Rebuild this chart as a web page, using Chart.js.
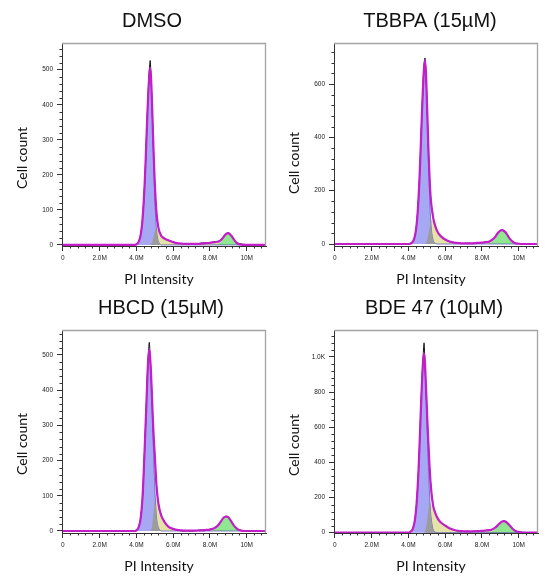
<!DOCTYPE html>
<html><head><meta charset="utf-8">
<script src="https://cdn.jsdelivr.net/npm/chart.js@4.4.1/dist/chart.umd.min.js"></script>
<style>
html,body{margin:0;padding:0;background:#fff;width:545px;height:577px;overflow:hidden}
canvas{position:absolute}
</style></head><body>
<canvas id="c0" style="left:0;top:0" width="272" height="290"></canvas>
<canvas id="c1" style="left:272px;top:0" width="273" height="290"></canvas>
<canvas id="c2" style="left:0;top:287px" width="272" height="290"></canvas>
<canvas id="c3" style="left:272px;top:287px" width="273" height="290"></canvas>
<script>
// PI intensity bin positions (millions)
const binsM = [0,3.9,4.0,4.1,
  4.2,4.25,4.3,4.35,4.4,4.45,4.5,4.55,4.6,4.65,4.7,4.75,4.8,4.85,4.9,4.95,5.0,5.05,5.1,5.15,5.2,5.25,5.3,5.35,5.4,
  5.5,5.6,5.7,5.8,
  6.0,6.2,6.4,6.6,6.8,7.0,7.2,7.4,7.6,7.8,8.0,8.2,
  8.4,8.5,8.6,8.7,8.8,8.9,9.0,9.1,9.2,9.3,9.4,9.5,9.6,9.7,9.8,
  10.0,10.2,10.4,10.6,11.0];

const panelTitles = ['DMSO','TBBPA (15µM)','HBCD (15µM)','BDE 47 (10µM)'];
const xTickValues = [0,2,4,6,8,10];
const xTickLabels = ['0','2.0M','4.0M','6.0M','8.0M','10M'];
const yTicksDMSO = [0,100,200,300,400,500];
const yTicksTBBPA = [0,200,400,600];
const yTicksHBCD = [0,100,200,300,400,500];
const yTicksBDE = [0,200,400,600,800,1000];
const yAxisTitle = 'Cell count';
const xAxisTitle = 'PI Intensity';

// DMSO
const histDMSO = [0,0,2,8, 22,37,54,88,124,180,236,315,382,445,500,526,468,398,316,242,172,125,86,62,50,37,33,27,22, 20,15,14,12, 9,5,4,3,2,3,3,4,6,6,7,9, 10,11,15,21,28,33,35,31,23,15,9,6,4,3,2, 1,1,0,0,0];
const g1DMSO = [0,0,2,7, 21,35,56,86,126,177,240,311,379,439,484,505,470,394,303,212,136,76,40,20,9,4,2,0,0, 0,0,0,0, 0,0,0,0,0,0,0,0,0,0,0,0, 0,0,0,0,0,0,0,0,0,0,0,0,0,0,0, 0,0,0,0,0];
const sDMSO = [0,0,0,0, 0,0,0,0,0,0,0,0,0,0,0,0,2,7,16,28,39,46,47,44,39,34,30,26,23, 19,16,14,12, 8,5,4,3,3,3,3,3,4,5,6,7, 7,6,5,4,3,2,1,0,0,0,0,0,0,0,0, 0,0,0,0,0];
const g2DMSO = [0,0,0,0, 0,0,0,0,0,0,0,0,0,0,0,0,0,0,0,0,0,0,0,0,0,0,0,0,0, 0,0,0,0, 0,0,0,0,0,0,0,0,0,0,0,0, 2,4,9,16,24,30,33,30,24,16,9,4,2,1,0, 0,0,0,0,0];

// TBBPA
const histTBBPA = [0,0,0,1, 7,11,16,31,50,78,120,170,245,332,430,522,606,668,698,640,548,436,330,250,180,146,118,99,80, 62,42,35,26, 18,9,7,4,2,2,3,2,3,5,5,8, 9,12,19,26,34,45,51,53,48,41,33,22,14,8,4, 2,1,0,0,0];
const g1TBBPA = [0,0,0,1, 6,10,17,29,48,76,117,173,242,328,424,518,600,661,690,642,538,414,290,186,104,55,28,12,6, 1,0,0,0, 0,0,0,0,0,0,0,0,0,0,0,0, 0,0,0,0,0,0,0,0,0,0,0,0,0,0,0, 0,0,0,0,0];
const sTBBPA = [0,0,0,0, 0,0,0,0,0,0,0,0,0,0,0,0,0,0,0,4,12,25,42,62,80,90,92,85,76, 58,44,34,27, 17,10,6,4,3,2,2,2,3,4,5,6, 6,6,5,4,3,2,1,0,0,0,0,0,0,0,0, 0,0,0,0,0];
const g2TBBPA = [0,0,0,0, 0,0,0,0,0,0,0,0,0,0,0,0,0,0,0,0,0,0,0,0,0,0,0,0,0, 0,0,0,0, 0,0,0,0,0,0,0,0,0,0,0,1, 3,7,13,21,32,42,49,52,49,42,32,21,13,7,3, 1,0,0,0,0];

// HBCD
const histHBCD = [0,0,3,10, 28,44,75,110,172,240,300,375,448,500,536,488,440,380,306,255,215,162,125,95,78,60,55,42,36, 30,18,15,9, 6,3,1,0,1,0,1,2,3,3,5,7, 15,19,28,34,41,42,38,33,23,17,9,6,3,2,1, 1,0,0,0,0];
const g1HBCD = [0,0,2,8, 26,45,72,113,170,237,304,371,443,494,515,490,436,360,275,195,125,70,35,18,9,4,2,0,0, 0,0,0,0, 0,0,0,0,0,0,0,0,0,0,0,0, 0,0,0,0,0,0,0,0,0,0,0,0,0,0,0, 0,0,0,0,0];
const sHBCD = [0,0,0,0, 0,0,0,0,0,0,0,0,0,0,0,0,5,15,35,62,88,95,88,78,68,59,51,44,38, 28,20,14,10, 6,3,2,1,1,1,1,2,2,3,4,4, 4,4,3,3,2,1,1,0,0,0,0,0,0,0,0, 0,0,0,0,0];
const g2HBCD = [0,0,0,0, 0,0,0,0,0,0,0,0,0,0,0,0,0,0,0,0,0,0,0,0,0,0,0,0,0, 0,0,0,0, 0,0,0,0,0,0,0,0,0,0,0,3, 10,16,24,32,38,40,38,32,24,16,10,5,3,1,0, 0,0,0,0,0];

// BDE 47
const histBDE = [0,0,0,4, 15,27,45,70,115,176,258,360,490,632,772,895,1000,1080,955,835,712,590,478,370,292,228,188,148,128, 103,78,66,52, 42,26,19,11,10,7,8,6,9,8,11,12, 15,15,21,26,37,45,57,63,67,61,54,41,31,20,12, 5,2,1,0,0];
const g1BDE = [0,0,0,4, 14,26,43,71,112,173,255,357,485,627,765,887,977,1020,959,816,663,490,347,214,122,71,37,16,8, 1,0,0,0, 0,0,0,0,0,0,0,0,0,0,0,0, 0,0,0,0,0,0,0,0,0,0,0,0,0,0,0, 0,0,0,0,0];
const sBDE = [0,0,0,0, 0,0,0,0,0,0,0,0,0,0,0,0,0,0,8,25,55,95,135,160,168,160,148,135,122, 100,80,65,55, 40,27,18,12,9,8,7,7,8,9,10,11, 11,10,9,8,6,4,3,2,1,0,0,0,0,0,0, 0,0,0,0,0];
const g2BDE = [0,0,0,0, 0,0,0,0,0,0,0,0,0,0,0,0,0,0,0,0,0,0,0,0,0,0,0,0,0, 0,0,0,0, 0,0,0,0,0,0,0,0,0,0,0,1, 3,6,11,19,30,42,53,62,65,62,53,42,30,19,11, 3,1,0,0,0];

const panels = [
  {id:'c0', title:panelTitles[0], hist:histDMSO, g1:g1DMSO, s:sDMSO, g2:g2DMSO, yTicks:yTicksDMSO, yMin:-3, yMax:576, yStep:100, yMinor:20, W:272, titleX:152, yLabY:158},
  {id:'c1', title:panelTitles[1], hist:histTBBPA, g1:g1TBBPA, s:sTBBPA, g2:g2TBBPA, yTicks:yTicksTBBPA, yMin:-7.5, yMax:754, yStep:200, yMinor:40, W:273, titleX:158, yLabY:163},
  {id:'c2', title:panelTitles[2], hist:histHBCD, g1:g1HBCD, s:sHBCD, g2:g2HBCD, yTicks:yTicksHBCD, yMin:-5.7, yMax:571, yStep:100, yMinor:20, W:272, titleX:161, yLabY:157},
  {id:'c3', title:panelTitles[3], hist:histBDE, g1:g1BDE, s:sBDE, g2:g2BDE, yTicks:yTicksBDE, yMin:-2, yMax:1153, yStep:200, yMinor:40, W:273, titleX:162, yLabY:158}
];

const decor = {
  id:'decor',
  afterDraw(chart, args, o){
    const ctx = chart.ctx, a = chart.chartArea, xs = chart.scales.x, ys = chart.scales.y;
    ctx.save();
    // plot frame (top & right)
    ctx.strokeStyle = '#a4a4a4'; ctx.lineWidth = 1.3;
    ctx.beginPath(); ctx.moveTo(a.left, a.top + 0.5); ctx.lineTo(a.right - 0.5, a.top + 0.5); ctx.lineTo(a.right - 0.5, a.bottom); ctx.stroke();
    // minor ticks
    ctx.strokeStyle = '#333'; ctx.lineWidth = 1;
    const xr = Math.round(o.xMajor / o.xMinor);
    for (let i = 1; i * o.xMinor < xs.max; i++) {
      if (i % xr === 0) continue;
      const px = Math.round(xs.getPixelForValue(i * o.xMinor)) + 0.5;
      ctx.beginPath(); ctx.moveTo(px, a.bottom); ctx.lineTo(px, a.bottom + 2.5); ctx.stroke();
    }
    const yr = Math.round(o.yMajor / o.yMinor);
    for (let i = 1; i * o.yMinor < ys.max; i++) {
      if (i % yr === 0) continue;
      const py = Math.round(ys.getPixelForValue(i * o.yMinor)) + 0.5;
      ctx.beginPath(); ctx.moveTo(a.left, py); ctx.lineTo(a.left - 2.5, py); ctx.stroke();
    }
    // texts
    ctx.fillStyle = '#111';
    ctx.textAlign = 'center'; ctx.textBaseline = 'middle';
    ctx.font = '20px "Liberation Sans", Arial, sans-serif';
    ctx.fillText(o.title, o.titleX, 21);
    ctx.font = '14px Lato, "Open Sans", sans-serif';
    ctx.fillText(o.xTitle, 159, 279);
    ctx.translate(22, o.yLabY); ctx.rotate(-Math.PI / 2);
    ctx.fillText(o.yTitle, 0, 0);
    ctx.restore();
  }
};

function pts(arr){ return binsM.map((x, i) => ({x: x, y: arr[i]})); }

panels.forEach(p => {
  const fit = p.g1.map((v, i) => v + p.s[i] + p.g2[i]);
  const overlap = p.g1.map((v, i) => Math.min(v, p.s[i]));
  const common = {pointRadius:0, tension:0.4, cubicInterpolationMode:'monotone'};
  new Chart(document.getElementById(p.id), {
    type:'line',
    data:{datasets:[
      Object.assign({label:'Fit', data:pts(fit), borderColor:'#c21fc9', borderWidth:2.2, fill:false}, common),
      Object.assign({label:'Histogram', data:pts(p.hist), borderColor:'#111', borderWidth:1, fill:false}, common),
      Object.assign({label:'G1/S overlap', data:pts(overlap), borderColor:'rgba(0,0,0,0)', borderWidth:1, backgroundColor:'#9c9c9c', fill:'origin'}, common),
      Object.assign({label:'G1', data:pts(p.g1), borderColor:'#4c4cb8', borderWidth:0.7, backgroundColor:'#a6a8f4', fill:'origin'}, common),
      Object.assign({label:'G2', data:pts(p.g2), borderColor:'rgba(0,0,0,0)', borderWidth:1, backgroundColor:'rgba(128,228,128,0.88)', fill:'origin'}, common),
      Object.assign({label:'S', data:pts(p.s), borderColor:'rgba(0,0,0,0)', borderWidth:1, backgroundColor:'#e5e3a8', fill:'origin'}, common)
    ]},
    options:{
      responsive:false, animation:false, devicePixelRatio:1,
      layout:{padding:{left:0, right:p.W - 266, top:43, bottom:0}},
      plugins:{
        legend:{display:false}, tooltip:{enabled:false}, title:{display:false},
        decor:{title:p.title, titleX:p.titleX, yLabY:p.yLabY, xTitle:xAxisTitle, yTitle:yAxisTitle,
               xMajor:2, xMinor:0.4, yMajor:p.yStep, yMinor:p.yMinor}
      },
      scales:{
        x:{type:'linear', min:-0.05, max:11.05,
           afterFit(s){ s.height = 44; },
           afterBuildTicks(s){ s.ticks = xTickValues.map(v => ({value:v})); },
           grid:{display:true, drawOnChartArea:false, drawTicks:true, tickLength:5, color:'#333', lineWidth:1},
           border:{display:true, color:'#333', width:1},
           ticks:{autoSkip:false, maxRotation:0, padding:3, color:'#222',
                  font:{family:'"Liberation Sans", Arial, sans-serif', size:6.5},
                  callback:(v) => xTickLabels[xTickValues.indexOf(v)]}},
        y:{type:'linear', min:p.yMin, max:p.yMax,
           afterFit(s){ s.width = 62; },
           afterBuildTicks(s){ s.ticks = p.yTicks.map(v => ({value:v})); },
           grid:{display:true, drawOnChartArea:false, drawTicks:true, tickLength:5, color:'#333', lineWidth:1},
           border:{display:true, color:'#333', width:1},
           ticks:{autoSkip:false, padding:4, color:'#222',
                  font:{family:'"Liberation Sans", Arial, sans-serif', size:6.5},
                  callback:(v) => v >= 1000 ? (v / 1000).toFixed(1) + 'K' : String(v)}}
      }
    },
    plugins:[decor]
  });
});
</script>
</body></html>
